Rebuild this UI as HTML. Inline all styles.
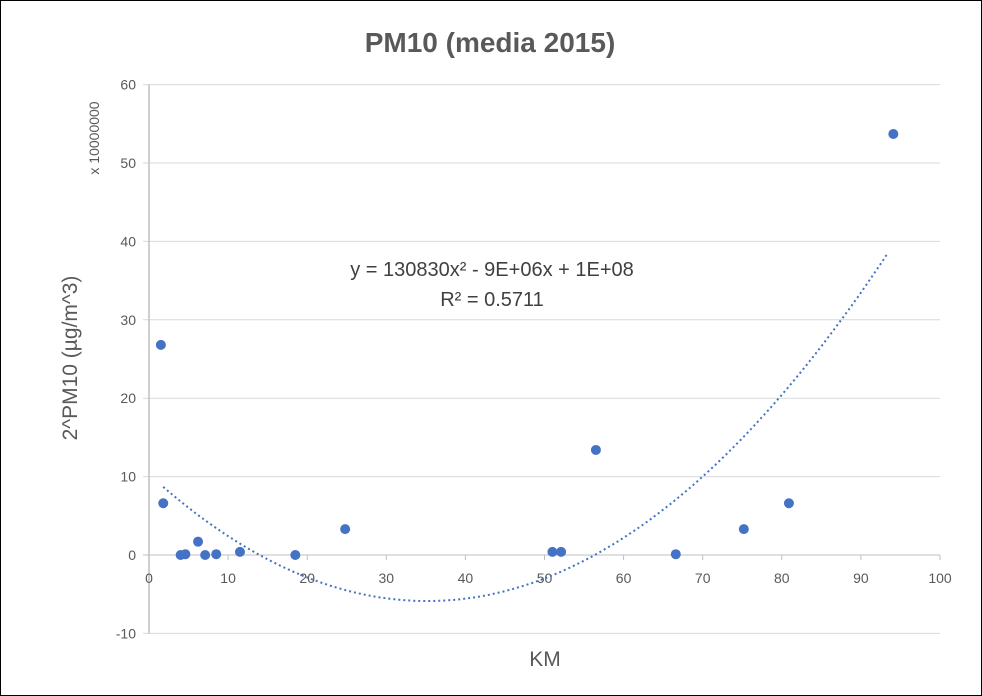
<!DOCTYPE html>
<html><head><meta charset="utf-8"><style>
html,body{margin:0;padding:0;background:#fff}
svg{display:block;font-family:"Liberation Sans",sans-serif}
</style></head><body>
<svg id="chart" width="982" height="696">
<rect x="0.5" y="0.5" width="981" height="695" fill="#fff" stroke="#000"/>
<text x="490" y="52" text-anchor="middle" font-size="28" font-weight="bold" fill="#595959">PM10 (media 2015)</text>
<g id="grid"></g><g id="axes"></g><g id="trend"></g><g id="points"></g>
<text transform="translate(77,358) rotate(-90)" text-anchor="middle" font-size="21" fill="#595959">2^PM10 (µg/m^3)</text>
<text transform="translate(99,138) rotate(-90)" text-anchor="middle" font-size="14" fill="#595959">x 10000000</text>
<text x="545" y="666" text-anchor="middle" font-size="21" fill="#595959">KM</text>
<text x="492" y="276" text-anchor="middle" font-size="20" fill="#404040">y = 130830x² - 9E+06x + 1E+08</text>
<text x="492" y="306" text-anchor="middle" font-size="20" fill="#404040">R² = 0.5711</text>
</svg>
<script>
const xVals=[1.5,1.8,4.0,4.6,6.2,7.1,8.5,11.5,18.5,24.8,51,52.1,56.5,66.6,75.2,80.9,94.1];
const yVals=[26.8,6.6,0,0.1,1.7,0,0.1,0.4,0,3.3,0.4,0.4,13.4,0.1,3.3,6.6,53.7];
const xTicks=[0,10,20,30,40,50,60,70,80,90,100];
const yTicks=[-10,0,10,20,30,40,50,60];
const trendCoef=[10.3,-0.92,0.013083];
const trendRange=[1.8,93.3];
const NS="http://www.w3.org/2000/svg";
const sx=v=>149+v*7.91, sy=v=>555-v*7.84;
function mk(t,a,p){const e=document.createElementNS(NS,t);for(const k in a)e.setAttribute(k,a[k]);p.appendChild(e);return e;}
const grid=document.getElementById('grid'),axes=document.getElementById('axes');
yTicks.forEach(v=>{
 const l=mk('line',{x1:143,x2:940,y1:sy(v),y2:sy(v),stroke:v===0?'#bfbfbf':'#d9d9d9','stroke-width':1},grid);
 
 
 const t=mk('text',{x:136,y:sy(v)+5,'text-anchor':'end','font-size':14,fill:'#595959'},axes);
 t.textContent=v;
 
 
});
const ya=mk('line',{x1:149,x2:149,y1:sy(60),y2:sy(-10),stroke:'#bfbfbf','stroke-width':1.5},axes);


xTicks.forEach(v=>{
 const tk=mk('line',{x1:sx(v),x2:sx(v),y1:555,y2:560,stroke:'#bfbfbf'},axes);
 
 
 const t=mk('text',{x:sx(v),y:583,'text-anchor':'middle','font-size':14,fill:'#595959'},axes);
 t.textContent=v;
 
 
});
let d='';
for(let i=0;i<=100;i++){const x=trendRange[0]+(trendRange[1]-trendRange[0])*i/100;const y=trendCoef[0]+trendCoef[1]*x+trendCoef[2]*x*x;d+=(i?'L':'M')+sx(x).toFixed(1)+','+sy(y).toFixed(1);}
const tr=mk('path',{d:d,fill:'none',stroke:'#4472c4','stroke-width':2,'stroke-dasharray':'2,3'},document.getElementById('trend'));


const pg=document.getElementById('points');
xVals.forEach((x,i)=>{
 const c=mk('circle',{cx:sx(x),cy:sy(yVals[i]),r:5,fill:'#4472c4'},pg);
 
 
});
</script>
</body></html>
